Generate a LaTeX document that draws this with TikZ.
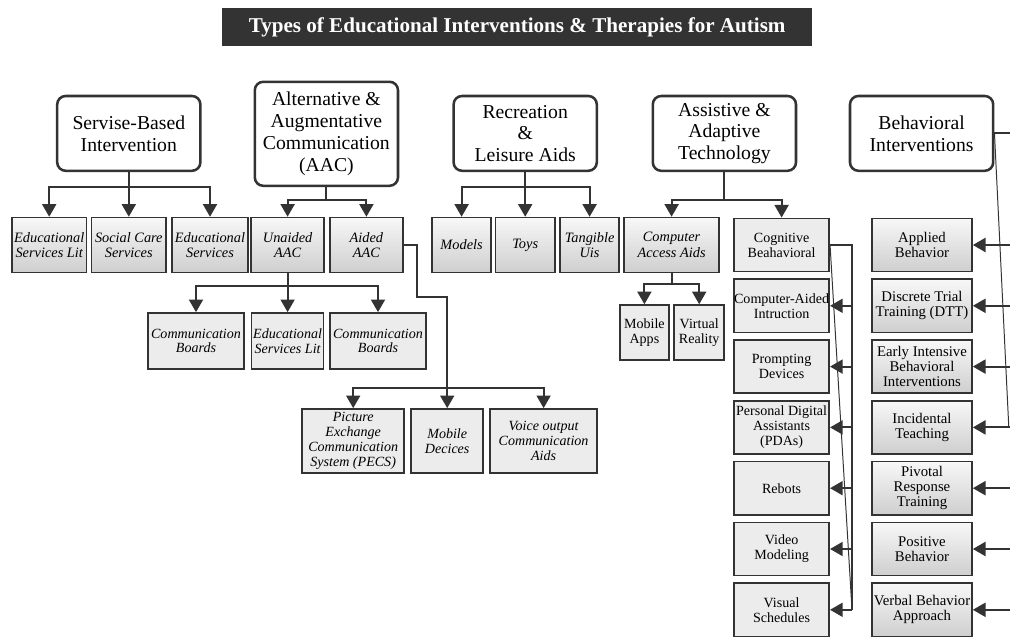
\documentclass[tikz,border=0pt]{standalone}
\usepackage{fontspec}
\setmainfont{Liberation Serif}
\usetikzlibrary{arrows.meta}

\begin{document}
\begin{tikzpicture}[
	head/.style = {draw = black!80, line width = 1.8pt, rounded corners = 6pt, fill = white, align = center, minimum width = 3.58cm, minimum height = 1.87cm, font = \fontsize{14}{15.5}\selectfont},
	sub/.style = {draw = black!80, line width = 1.2pt, top color = gray!6, bottom color = gray!38, align = center, minimum height = 1.37cm, inner sep = 0.5pt, font = \fontsize{10.2}{11}\selectfont\itshape},
	leaf/.style = {draw = black!80, line width = 1.2pt, fill = gray!15, align = center, inner sep = 1pt, font = \fontsize{10}{10.5}\selectfont\itshape},
	tool/.style = {draw = black!80, line width = 1.2pt, fill = gray!15, align = center, minimum width = 2.38cm, minimum height = 1.33cm, inner sep = 0pt, font = \fontsize{10}{10.6}\selectfont},
	method/.style = {draw = black!80, line width = 1.2pt, top color = gray!6, bottom color = gray!38, align = center, minimum width = 2.5cm, minimum height = 1.33cm, inner sep = 0pt, font = \fontsize{10.5}{10.6}\selectfont},
	link/.style = {draw = black!80, line width = 1.3pt},
	diag/.style = {draw = black!80, line width = 0.7pt},
	arr/.style = {link, -{Triangle[width=10pt,length=9pt]}}
]
	\useasboundingbox (0, 0) rectangle (25.25, 15.925);
	\clip (0, 0) rectangle (25.25, 15.925);

	\node (title) at (12.93, 15.25)	[fill = black!80, text = white, minimum width = 14.75cm, minimum height = 0.95cm, font = \fontsize{15}{18}\selectfont\bfseries]	{Types of Educational Interventions \& Therapies for Autism};

	% main groups
	\node (serv) at ( 3.22, 12.59)	[head]	{Servise-Based\\Intervention};
	\node (aac)  at ( 8.16, 12.58)	[head, minimum height = 2.6cm]	{Alternative \&\\Augmentative\\Communication\\(AAC)};
	\node (recr) at (13.13, 12.59)	[head]	{Recreation\\\&\\Leisure Aids};
	\node (asst) at (18.11, 12.59)	[head]	{Assistive \&\\Adaptive\\Technology};
	\node (behv) at (23.04, 12.59)	[head]	{Behavioral\\Interventions};

	% second row
	\node (edlit)  at ( 1.23, 9.8)	[sub, minimum width = 1.86cm]	{Educational\\Services Lit};
	\node (social) at ( 3.22, 9.8)	[sub, minimum width = 1.86cm]	{Social Care\\Services};
	\node (edserv) at ( 5.25, 9.8)	[sub, minimum width = 1.9cm]	{Educational\\Services};
	\node (unaid)  at ( 7.19, 9.8)	[sub, minimum width = 1.83cm]	{Unaided\\AAC};
	\node (aided)  at ( 9.16, 9.8)	[sub, minimum width = 1.83cm]	{Aided\\AAC};
	\node (models) at (11.54, 9.8)	[sub, minimum width = 1.48cm]	{Models};
	\node (toys)   at (13.13, 9.8)	[sub, minimum width = 1.48cm]	{Toys};
	\node (tang)   at (14.74, 9.8)	[sub, minimum width = 1.48cm]	{Tangible\\Uis};
	\node (access) at (16.79, 9.8)	[sub, minimum width = 2.38cm]	{Computer\\Access Aids};

	% AAC branches
	\node (board1) at ( 4.9, 7.4)	[leaf, minimum width = 2.4cm, minimum height = 1.4cm]	{Communication\\Boards};
	\node (edlit2) at ( 7.19, 7.4)	[leaf, minimum width = 1.8cm, minimum height = 1.4cm]	{Educational\\Services Lit};
	\node (board2) at ( 9.45, 7.4)	[leaf, minimum width = 2.4cm, minimum height = 1.4cm]	{Communication\\Boards};
	\node (pecs)   at ( 8.83, 4.9)	[leaf, minimum width = 2.55cm, minimum height = 1.6cm]	{Picture\\Exchange\\Communication\\System (PECS)};
	\node (mobdev) at (11.18, 4.9)	[leaf, minimum width = 1.8cm, minimum height = 1.6cm]	{Mobile\\Decices};
	\node (voice)  at (13.59, 4.9)	[leaf, minimum width = 2.68cm, minimum height = 1.6cm]	{Voice output\\Communication\\Aids};

	% access aids
	\node (apps) at (16.11, 7.61)	[tool, minimum width = 1.23cm, minimum height = 1.375cm]	{Mobile\\Apps};
	\node (vr)   at (17.48, 7.61)	[tool, minimum width = 1.25cm, minimum height = 1.375cm]	{Virtual\\Reality};

	% cognitive column
	\node (cog)    at (19.54, 9.8)	[tool]	{Cognitive\\Beahavioral};
	\node (cai)    at (19.54, 8.28)	[tool]	{Computer-Aided\\Intruction};
	\node (prompt) at (19.54, 6.76)	[tool]	{Prompting\\Devices};
	\node (pda)    at (19.54, 5.24)	[tool]	{Personal Digital\\Assistants\\(PDAs)};
	\node (robot)  at (19.54, 3.72)	[tool]	{Rebots};
	\node (video)  at (19.54, 2.2)	[tool]	{Video\\Modeling};
	\node (visual) at (19.54, 0.68)	[tool]	{Visual\\Schedules};

	% behavioral column
	\node (appl)   at (23.05, 9.8)	[method]	{Applied\\Behavior};
	\node (dtt)    at (23.05, 8.28)	[method]	{Discrete Trial\\Training (DTT)};
	\node (early)  at (23.05, 6.76)	[method]	{Early Intensive\\Behavioral\\Interventions};
	\node (incid)  at (23.05, 5.24)	[method]	{Incidental\\Teaching};
	\node (pivot)  at (23.05, 3.72)	[method]	{Pivotal\\Response\\Training};
	\node (posit)  at (23.05, 2.2)	[method]	{Positive\\Behavior};
	\node (verbal) at (23.05, 0.68)	[method]	{Verbal Behavior\\Approach};

	% junctions
	\coordinate (servbar)  at ( 3.22, 11.25);
	\coordinate (aacbar)   at ( 8.16, 10.93);
	\coordinate (recrbar)  at (13.13, 11.25);
	\coordinate (asstbar)  at (18.11, 10.93);
	\coordinate (unaidbar) at ( 7.19, 8.78);
	\coordinate (aidbend)  at (10.43, 8.5);
	\coordinate (aidbar)   at (11.18, 6.23);
	\coordinate (accbar)   at (16.79, 8.83);
	\coordinate (cogtop)   at (21.3, 9.8);
	\coordinate (cogbot)   at (21.3, 0.68);
	\coordinate (behtop)   at (25.32, 12.59);
	\coordinate (behbot)   at (25.32, 0.68);
	\coordinate (behdiag)  at (25.22, 5.24);

	\draw[link] (serv.south) -- (servbar);
	\draw[arr] (servbar) -| (edlit.north);
	\draw[arr] (servbar) -- (social.north);
	\draw[arr] (servbar) -| (edserv.north);

	\draw[link] (aac.south) -- (aacbar);
	\draw[arr] (aacbar) -| (unaid.north);
	\draw[arr] (aacbar) -| (aided.north);

	\draw[link] (recr.south) -- (recrbar);
	\draw[arr] (recrbar) -| (models.north);
	\draw[arr] (recrbar) -- (toys.north);
	\draw[arr] (recrbar) -| (tang.north);

	\draw[link] (asst.south) -- (asstbar);
	\draw[arr] (asstbar) -| (access.north);
	\draw[arr] (asstbar) -| (cog.north);

	\draw[link] (unaid.south) -- (unaidbar);
	\draw[arr] (unaidbar) -| (board1.north);
	\draw[arr] (unaidbar) -- (edlit2.north);
	\draw[arr] (unaidbar) -| (board2.north);

	\draw[arr] (aided.east) -| (aidbend) -| (mobdev.north);
	\draw[arr] (aidbar) -| (pecs.north);
	\draw[arr] (aidbar) -| (voice.north);

	\draw[link] (access.south) -- (accbar);
	\draw[arr] (accbar) -| (apps.north);
	\draw[arr] (accbar) -| (vr.north);

	\draw[link] (cog.east) -- (cogtop) -- (cogbot);
	\draw[arr] (cogtop |- cai) -- (cai.east);
	\draw[arr] (cogtop |- prompt) -- (prompt.east);
	\draw[arr] (cogtop |- pda) -- (pda.east);
	\draw[arr] (cogtop |- robot) -- (robot.east);
	\draw[arr] (cogtop |- video) -- (video.east);
	\draw[arr] (cogbot) -- (visual.east);
	\draw[diag] (cog.east) -- (cogbot);

	\draw[link] (behv.east) -- (behtop) -- (behbot);
	\draw[arr] (behtop |- appl) -- (appl.east);
	\draw[arr] (behtop |- dtt) -- (dtt.east);
	\draw[arr] (behtop |- early) -- (early.east);
	\draw[arr] (behtop |- incid) -- (incid.east);
	\draw[arr] (behtop |- pivot) -- (pivot.east);
	\draw[arr] (behtop |- posit) -- (posit.east);
	\draw[arr] (behbot) -- (verbal.east);
	\draw[diag] (behv.east) -- (behdiag);
\end{tikzpicture}
\end{document}
